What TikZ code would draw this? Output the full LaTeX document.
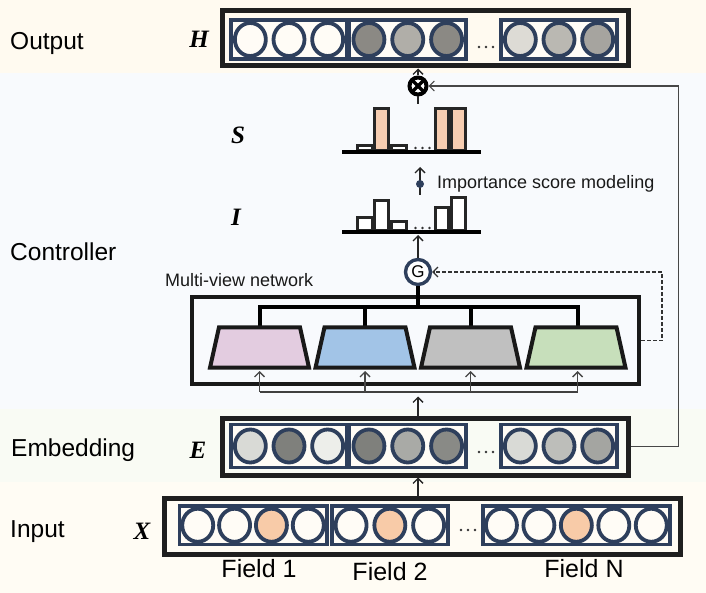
\documentclass[tikz,border=0pt]{standalone}
\usepackage{fontspec}
\setmainfont{Liberation Sans}
\newfontfamily\mathlab{Liberation Serif}
\usetikzlibrary{arrows.meta}
\definecolor{navy}{HTML}{2E3F5C}
\definecolor{bandO}{HTML}{FFFAF0}
\definecolor{bandC}{HTML}{F8FAFD}
\definecolor{bandE}{HTML}{F9FBF4}
\definecolor{bandI}{HTML}{FFFCF4}
\definecolor{cream}{HTML}{FFFCF6}
\definecolor{peach}{HTML}{F8CBA8}
\definecolor{barpink}{HTML}{F7CDB1}
\definecolor{hA}{HTML}{8B8984}
\definecolor{hB}{HTML}{B0AEA8}
\definecolor{hC}{HTML}{DDDBD5}
\definecolor{hD}{HTML}{BAB8B2}
\definecolor{hE}{HTML}{A6A49F}
\definecolor{eA}{HTML}{D9DAD6}
\definecolor{eB}{HTML}{7F807C}
\definecolor{eC}{HTML}{EDEEEA}
\definecolor{eD}{HTML}{898A86}
\definecolor{eE}{HTML}{A9AAA6}
\definecolor{eF}{HTML}{BDBEBA}
\definecolor{eG}{HTML}{A4A5A1}
\definecolor{tP}{HTML}{E3CCE0}
\definecolor{tB}{HTML}{A2C4E7}
\definecolor{tG}{HTML}{C0C0C0}
\definecolor{tGr}{HTML}{C7DFBB}
\newcommand\cellrow[6]{%
  \draw[grp] (#1,#3) rectangle (#2,#4);
  \foreach \c [count=\k] in {#6}{%
    \pgfmathsetmacro\cx{#1+(#2-#1)*(\k-0.5)/#5}%
    \draw[cel, fill=\c] (\cx,{(#3+#4)/2}) ellipse [x radius=15.5pt, y radius=16.5pt];
  }%
}
\newcommand\threedots[3]{%
  \foreach \d in {-7,0,7}{\fill[black!80] ({#1+\d},#2) circle[radius=#3];}%
}
\begin{document}
\begin{tikzpicture}[x=1pt,y=-1pt,
  outerbox/.style={draw=black!88, line width=5pt, inner sep=0pt},
  grp/.style={draw=navy, line width=3.6pt, fill=cream},
  cel/.style={draw=navy, line width=3.8pt},
  barst/.style={draw=black!85, line width=3pt},
  baseln/.style={draw=black, line width=4pt},
  tree/.style={draw=black, line width=4pt},
  trap/.style={draw=black!90, line width=4pt, line join=miter},
  arr/.style={-{Straight Barb[length=5pt,width=10pt]}, line width=1.4pt, draw=black!85},
  garr/.style={-{Straight Barb[length=5pt,width=10pt]}, line width=1.4pt, draw=black!72},
  fb/.style={-{Straight Barb[length=5pt,width=10pt]}, line width=1.1pt, draw=black!72},
  dasharr/.style={-{Straight Barb[length=5pt,width=10pt]}, line width=1.1pt, draw=black!80, dash pattern=on 3.5pt off 2.5pt},
  lab/.style={font=\fontsize{24.5}{28}\selectfont, inner sep=0pt, anchor=base west},
  mlab/.style={font=\mathlab\bfseries\itshape\fontsize{25}{28}\selectfont, inner sep=0pt, anchor=base},
  small/.style={font=\fontsize{18}{21}\selectfont, inner sep=0pt, anchor=base west, text=black!90},
  field/.style={font=\fontsize{25}{28}\selectfont, inner sep=0pt, anchor=base}
]
\useasboundingbox (0,0) rectangle (706,593);
% bands
\fill[bandO] (0,0) rectangle (706,73);
\fill[bandC] (0,73) rectangle (706,409);
\fill[bandE] (0,409) rectangle (706,482);
\fill[bandI] (0,482) rectangle (706,593);

% band labels
\node[lab] (tOut) at (10,50) {Output};
\node[lab] (tCtl) at (10,261) {Controller};
\node[lab] (tEmb) at (11,456) {Embedding};
\node[lab] (tInp) at (10,537) {Input};

% math labels
\node[mlab] (lH) at (199,48) {H};
\node[mlab] (lS) at (238,144) {S};
\node[mlab] (lI) at (236,226) {I};
\node[mlab] (lE) at (198,458) {E};
\node[mlab] (lX) at (142,539) {X};

% output box H
\node[outerbox, minimum width=406pt, minimum height=55pt] (Hbox) at (425,38.5) {};
\cellrow{231}{347}{20}{59}{3}{cream,cream,cream}
\cellrow{349.5}{466}{20}{59}{3}{hA,hB,hA}
\cellrow{501}{617}{20}{59}{3}{hC,hD,hE}
\threedots{486}{47}{1.4}

% embedding box E
\node[outerbox, minimum width=406pt, minimum height=57pt] (Ebox) at (425,446.5) {};
\cellrow{231}{347}{424.5}{467.5}{3}{eA,eB,eC}
\cellrow{349.5}{466}{424.5}{467.5}{3}{eB,eE,eD}
\cellrow{501}{617}{424.5}{467.5}{3}{eA,eF,eG}
\threedots{486}{452}{1.4}

% input box X
\node[outerbox, minimum width=516pt, minimum height=56pt] (Xbox) at (422.5,526) {};
\cellrow{179.3}{326.7}{506}{544.5}{4}{cream,cream,peach,cream}
\cellrow{331.7}{448}{506}{544.5}{3}{cream,peach,cream}
\cellrow{482.7}{670}{506}{544.5}{5}{cream,cream,peach,cream,cream}
\threedots{468}{530}{1.4}

% field labels
\node[field] (f1) at (259,577) {Field 1};
\node[field] (f2) at (390,580) {Field 2};
\node[field] (fN) at (584,577) {Field N};

% S bar chart
\draw[barst, fill=white] (357.5,146) rectangle (372.5,151);
\draw[barst, fill=barpink] (374.5,109) rectangle (388,151);
\draw[barst, fill=white] (391,146) rectangle (406,151);
\draw[barst, fill=barpink] (435,109) rectangle (448.5,151);
\draw[barst, fill=barpink] (451,109) rectangle (465,151);
\draw[baseln] (342,152) -- (481,152);
\threedots{422.5}{148}{1.3}

% I bar chart
\draw[barst, fill=white] (357.5,218) rectangle (372.5,231);
\draw[barst, fill=white] (374.5,201) rectangle (388,231);
\draw[barst, fill=white] (391,222) rectangle (406,231);
\draw[barst, fill=white] (435,208) rectangle (448.5,231);
\draw[barst, fill=white] (451,198) rectangle (465,231);
\draw[baseln] (342,232) -- (481,232);
\threedots{422.5}{228}{1.3}

% multiply node and feedback
\node[circle, draw=black, line width=4pt, fill=white, minimum size=17pt, inner sep=0pt] (ot) at (418,86) {};
\draw[black, line width=3.4pt] ([shift={(-5,-5)}]ot.center) -- ([shift={(5,5)}]ot.center);
\draw[black, line width=3.4pt] ([shift={(-5,5)}]ot.center) -- ([shift={(5,-5)}]ot.center);
\draw[arr] (ot.north) -- (Hbox.south -| ot);
\coordinate (Stop) at (418,104);
\draw[line width=1.4pt, black!85] (Stop) -- (ot.south);
\draw[fb] (Ebox.east) -- ++(48,0) |- (ot.east);

% importance score modeling
\coordinate (impA) at (420,195);
\coordinate (impB) at (420,167);
\draw[arr] (impA) -- (impB);
\node[circle, fill=navy, minimum size=8pt, inner sep=0pt] (impdot) at (420,184) {};
\node[small] (tImp) at (437,189) {Importance score modeling};

% gate node
\node[circle, draw=navy, line width=3.4pt, fill=white, minimum size=25pt, inner sep=0pt,
      font=\fontsize{17}{17}\selectfont] (G) at (418,272) {G};
\coordinate (Ib) at (418,235);
\draw[arr] (G.north) -- (Ib);

% multi-view network
\node[small] (tMV) at (165,287) {Multi-view network};
\node[draw=black!90, line width=4pt, minimum width=447pt, minimum height=86.7pt, inner sep=0pt] (mv) at (415.5,340.7) {};
\draw[dasharr] (mv.east) -- ++(21,0) |- (G.east);

% tree
\draw[tree] (G.south) -- (418,307.3);
\draw[tree, line cap=rect] (259.5,307.3) -- (577.6,307.3);
\foreach \cx in {259.5,365,470.5,577.6}{\draw[tree] (\cx,307.3) -- (\cx,328);}
\foreach \cx/\col in {259.5/tP,365/tB,470.5/tG,576/tGr}{%
  \draw[trap, fill=\col] (\cx-40.5,327.3) -- (\cx+40.5,327.3) -- (\cx+49.5,367.7) -- (\cx-49.5,367.7) -- cycle;
}

% bottom bracket with input arrows
\draw[line width=1.8pt, black!75] (259.5,391.7) -- (577.6,391.7);
\foreach \cx in {259.5,365,470.5,577.6}{\draw[garr] (\cx,391.7) -- (\cx,371);}
\coordinate (brk) at (418,396.5);
\draw[arr] (Ebox.north -| G) -- (brk);
\draw[arr] (Xbox.north -| G) -- (Ebox.south -| G);
\end{tikzpicture}
\end{document}
